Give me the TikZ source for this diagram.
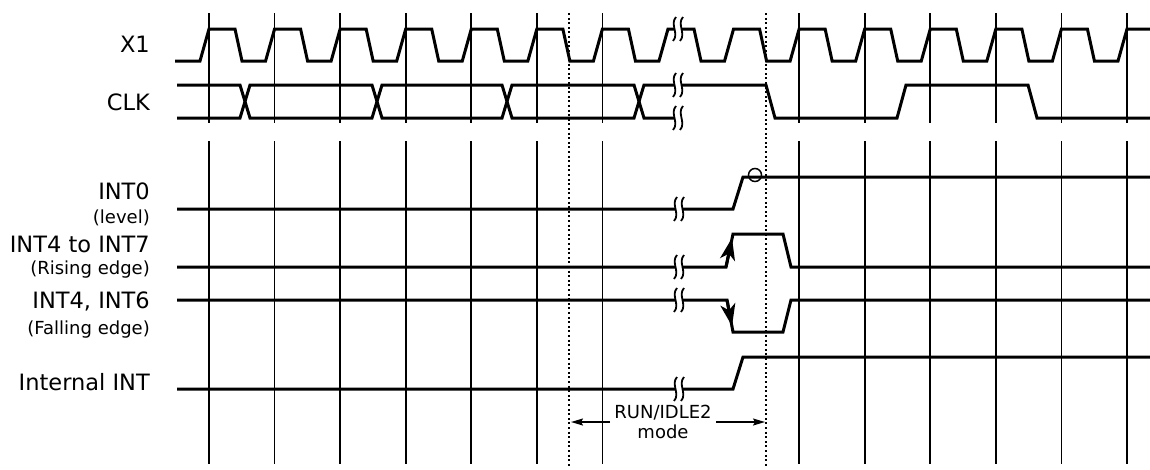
\documentclass[tikz,border=0pt]{standalone}
\usepackage{fontspec}
\setmainfont{DejaVu Sans}
\usetikzlibrary{arrows.meta}
\begin{document}
\begin{tikzpicture}[x=1pt,y=-1pt,
  sig/.style={line width=3pt, line join=miter},
  gridln/.style={line width=1.6pt},
  dotln/.style={line width=2pt, dash pattern=on 2pt off 2.6pt},
  lab/.style={anchor=base east, inner sep=0pt, font=\fontsize{22.5}{26}\selectfont},
  sublab/.style={anchor=base east, inner sep=0pt, font=\fontsize{18}{20}\selectfont},
  tip/.style={-{Stealth[length=22pt,width=15pt,inset=6pt]}},
  brk/.pic={
    \fill[white] (-2,-12) .. controls (-8.5,-5) and (1.5,5) .. (-5,12) -- (2,12) .. controls (8.5,5) and (-1.5,-5) .. (5,-12) -- cycle;
    \draw[line width=1.8pt] (-2,-12) .. controls (-8.5,-5) and (1.5,5) .. (-5,12);
    \draw[line width=1.8pt] (5,-12) .. controls (-1.5,-5) and (8.5,5) .. (2,12);
  }]
\useasboundingbox (0,0) rectangle (1150,469);

% grid lines
\foreach \k in {0,...,6,9,10,...,14}{
  \draw[gridln] ({209+65.57*\k},13) -- ({209+65.57*\k},123);
  \draw[gridln] ({209+65.57*\k},141) -- ({209+65.57*\k},464);
}
\coordinate (dA) at (569,13);
\coordinate (dB) at (569,466);
\coordinate (dC) at (766,13);
\coordinate (dD) at (766,466);
\draw[dotln] (dA) -- (dB);
\draw[dotln] (dC) -- (dD);

% labels
\node[lab] (lx1) at (150,52) {X1};
\node[lab] (lclk) at (150,110) {CLK};
\node[lab] (lint0) at (150,199) {INT0};
\node[sublab] (llev) at (150,223) {(level)};
\node[lab] (lint47) at (150,252) {INT4 to INT7};
\node[sublab] (lrise) at (150,274) {(Rising edge)};
\node[lab] (lint46) at (150,308) {INT4, INT6};
\node[sublab] (lfall) at (150,334) {(Falling edge)};
\node[lab] (lintint) at (150,390) {Internal INT};

% X1
\draw[sig] (175,61) foreach \k in {0,...,13}{
  -- ({209+65.57*\k-9},61) -- ({209+65.57*\k},29) -- ({209+65.57*\k+26},29) -- ({209+65.57*\k+33},61)}
  -- (1118,61) -- (1127,29) -- (1150,29);

% CLK
\draw[sig] (177,85) -- (240,85) -- (250,118) -- (372,118) -- (382,85) -- (502,85) -- (512,118)
  -- (634,118) -- (644,85) -- (766,85) -- (775,118) -- (897,118) -- (906,85) -- (1028,85)
  -- (1037,118) -- (1150,118);
\draw[sig] (177,118) -- (240,118) -- (250,85) -- (372,85) -- (382,118) -- (502,118) -- (512,85)
  -- (634,85) -- (644,118) -- (677,118);

% INT0
\draw[sig] (177,209) -- (733,209) -- (743,177) -- (1150,177);
\draw[line width=1.5pt] (755,175) circle (6.5);

% INT4 to INT7
\draw[sig] (177,267) -- (726,267) -- (733,234) -- (783,234) -- (791,267) -- (1150,267);
\draw[sig,tip] (726,267) -- (732,238);

% INT4, INT6
\draw[sig] (177,300) -- (727,300) -- (733,332) -- (783,332) -- (791,300) -- (1150,300);
\draw[sig,tip] (727,300) -- (732,326);

% Internal INT
\draw[sig] (177,389) -- (733,389) -- (743,357) -- (1150,357);

% break marks
\pic at (678,29) {brk};
\pic at (678,85) {brk};
\pic at (678,118) {brk};
\pic at (679,209) {brk};
\pic at (679,267) {brk};
\pic at (679,300) {brk};
\pic at (679,389) {brk};

% mode label
\node[anchor=base, inner sep=0pt, font=\fontsize{18}{20}\selectfont] (lrun) at (663,418) {RUN/IDLE2};
\node[anchor=base, inner sep=0pt, font=\fontsize{18}{20}\selectfont] (lmode) at (663,438) {mode};
\coordinate (aL) at (571,422);
\coordinate (aR) at (765,422);
\draw[line width=1.5pt,-{Stealth[length=12pt,width=7pt,inset=2pt]}] (610,422) -- (aL);
\draw[line width=1.5pt,-{Stealth[length=12pt,width=7pt,inset=2pt]}] (716,422) -- (aR);
\end{tikzpicture}
\end{document}
